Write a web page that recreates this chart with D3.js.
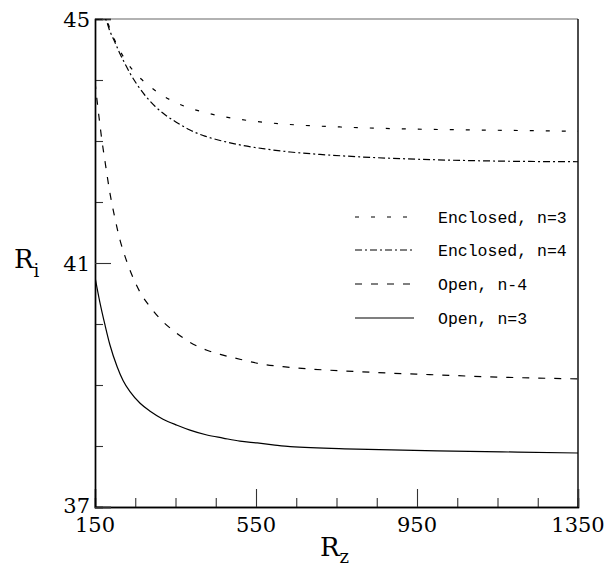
<!DOCTYPE html>
<html>
<head>
<meta charset="utf-8">
<script src="https://cdn.jsdelivr.net/npm/d3@7"></script>
<style>
  body { margin: 0; background: #fff; }
  svg { display: block; }
</style>
</head>
<body>
<svg id="chart"></svg>
<script>
// values
const rz = {
  encl3: [150, 177, 187, 200, 212, 227, 244, 264, 287, 312, 341, 376, 416, 461, 515, 580, 659, 759, 908, 1107, 1350],
  encl4: [150, 175, 187, 200, 212, 225, 237, 254, 274, 299, 324, 354, 386, 423, 466, 515, 572, 635, 709, 808, 958, 1156, 1350],
  open4: [150, 155, 160, 167, 175, 187, 200, 212, 225, 242, 262, 287, 317, 349, 386, 428, 468, 518, 567, 617, 800, 982, 1150, 1350],
  open3: [150, 162, 175, 187, 205, 220, 237, 262, 287, 319, 354, 386, 428, 468, 510, 553, 592, 635, 800, 1000, 1200, 1350]
};
const ri = {
  encl3: [45.0, 45.0, 44.84, 44.64, 44.48, 44.31, 44.16, 44.02, 43.89, 43.77, 43.66, 43.56, 43.48, 43.41, 43.35, 43.30, 43.26, 43.23, 43.20, 43.18, 43.16],
  encl4: [45.0, 45.0, 44.80, 44.61, 44.43, 44.26, 44.11, 43.93, 43.75, 43.57, 43.43, 43.30, 43.18, 43.08, 43.00, 42.93, 42.87, 42.82, 42.78, 42.74, 42.70, 42.67, 42.66],
  open4: [43.97, 43.67, 43.39, 43.02, 42.66, 42.15, 41.72, 41.38, 41.10, 40.80, 40.52, 40.28, 40.05, 39.87, 39.70, 39.57, 39.49, 39.41, 39.34, 39.30, 39.22, 39.17, 39.13, 39.10],
  open3: [40.77, 40.36, 39.98, 39.66, 39.30, 39.07, 38.89, 38.70, 38.57, 38.44, 38.34, 38.26, 38.18, 38.13, 38.08, 38.05, 38.02, 37.99, 37.95, 37.92, 37.90, 37.885]
};
const seriesKeys = ["encl3", "encl4", "open4", "open3"];
const seriesNames = ["Enclosed, n=3", "Enclosed, n=4", "Open, n-4", "Open, n=3"];
const seriesDash = ["4,12", "7,3,2,3", "7,9", null];

const xTicksMajor = [150, 550, 950, 1350];
const xTicksMinor = [250, 350, 450, 650, 750, 850, 1050, 1150, 1250];
const yTicksMajor = [37, 41, 45];
const yTicksMinor = [38, 39, 40, 42, 43, 44];

const width = 610, height = 581;
const plotL = 95, plotR = 578, plotT = 19, plotB = 507;

const svg = d3.select("#chart").attr("width", width).attr("height", height);

const x = d3.scaleLinear().domain([150, 1350]).range([plotL, plotR]);
const y = d3.scaleLinear().domain([37, 45]).range([plotB, plotT]);

svg.append("clipPath").attr("id", "clip")
  .append("rect")
  .attr("x", plotL).attr("y", plotT)
  .attr("width", plotR - plotL).attr("height", plotB - plotT);

// frame
svg.append("line").attr("x1", plotL).attr("x2", plotR).attr("y1", plotT).attr("y2", plotT)
  .attr("stroke", "#666").attr("stroke-width", 1.2);
svg.append("line").attr("x1", plotR).attr("x2", plotR).attr("y1", plotT).attr("y2", plotB)
  .attr("stroke", "#000").attr("stroke-width", 1.4);

// bottom axis, ticks pointing inward
const gx = svg.append("g").attr("transform", `translate(0,${plotB})`);
gx.call(d3.axisTop(x).tickValues(xTicksMinor).tickSize(9).tickFormat(""));
gx.call(g => g.append("g").call(d3.axisTop(x).tickValues(xTicksMajor).tickSize(18).tickFormat("")));
gx.selectAll(".domain").attr("stroke", "#000").attr("stroke-width", 1.4);
gx.selectAll(".tick line").attr("stroke", "#333").attr("stroke-width", 1.1);

// left axis, ticks pointing inward
const gy = svg.append("g").attr("transform", `translate(${plotL},0)`);
gy.call(d3.axisRight(y).tickValues(yTicksMinor).tickSize(8).tickFormat(""));
gy.call(g => g.append("g").call(d3.axisRight(y).tickValues(yTicksMajor).tickSize(16).tickFormat("")));
gy.selectAll(".domain").attr("stroke", "#000").attr("stroke-width", 1.4);
gy.selectAll(".tick line").attr("stroke", "#333").attr("stroke-width", 1.1);

// tick labels
const labelFont = "'DejaVu Serif', serif";
svg.append("g").selectAll("text").data(xTicksMajor).join("text")
  .attr("x", d => x(d)).attr("y", 532)
  .attr("text-anchor", "middle")
  .attr("font-family", labelFont).attr("font-size", 21)
  .text(d => d);
svg.append("g").selectAll("text").data(yTicksMajor).join("text")
  .attr("x", 90).attr("y", d => d === 37 ? y(d) + 6 : y(d) + 7.5)
  .attr("text-anchor", "end")
  .attr("font-family", labelFont).attr("font-size", 21)
  .text(d => d);

// axis titles
const tx = svg.append("text").attr("x", 320).attr("y", 556)
  .attr("font-family", labelFont).attr("font-size", 26);
tx.append("tspan").text("R");
tx.append("tspan").attr("font-size", 18).attr("dy", 7).text("z");

const ty = svg.append("text").attr("x", 14).attr("y", 268)
  .attr("font-family", labelFont).attr("font-size", 26);
ty.append("tspan").text("R");
ty.append("tspan").attr("font-size", 18).attr("dy", 9).text("i");

// curves
const line = d3.line()
  .x(d => x(d[0])).y(d => y(d[1]))
  .curve(d3.curveMonotoneX);

const curves = svg.append("g").attr("clip-path", "url(#clip)");
seriesKeys.forEach((k, i) => {
  const pts = d3.zip(rz[k], ri[k]);
  curves.append("path")
    .datum(pts)
    .attr("d", line)
    .attr("fill", "none")
    .attr("stroke", "#000")
    .attr("stroke-width", 1.2)
    .attr("stroke-dasharray", seriesDash[i]);
});

// legend
const legY = [217, 250, 284, 318];
const leg = svg.append("g");
seriesKeys.forEach((k, i) => {
  leg.append("line")
    .attr("x1", 355).attr("x2", 414)
    .attr("y1", legY[i]).attr("y2", legY[i])
    .attr("stroke", "#000").attr("stroke-width", 1.1)
    .attr("stroke-dasharray", seriesDash[i]);
  leg.append("text")
    .attr("x", 438).attr("y", legY[i] + 5.5)
    .attr("font-family", "'Liberation Mono', monospace")
    .attr("font-size", 16.5)
    .text(seriesNames[i]);
});
</script>
</body>
</html>
